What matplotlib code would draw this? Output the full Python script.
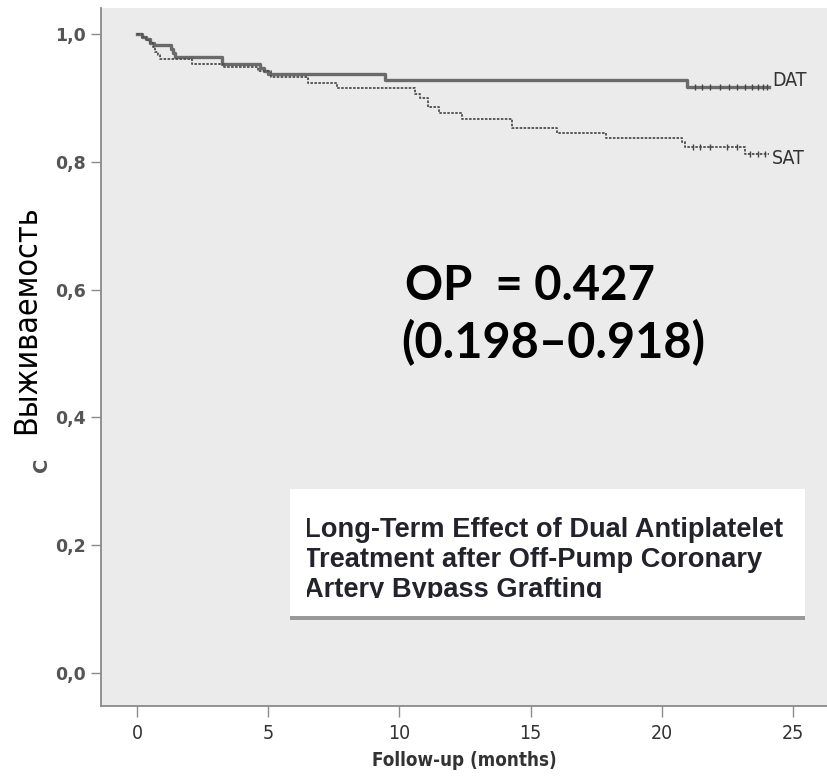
import matplotlib
matplotlib.use("Agg")
import matplotlib.pyplot as plt
from matplotlib.patches import Rectangle
import numpy as np

# ---- data ----
dat_t = [0, 0.2, 0.35, 0.5, 0.65, 1.3, 1.37, 1.45, 3.23, 4.69, 4.85, 5.0, 9.45, 20.95, 24.1]
dat_s = [1.0, 0.995, 0.991, 0.986, 0.982, 0.976, 0.970, 0.964, 0.953, 0.946, 0.941, 0.9375, 0.928, 0.916, 0.916]
sat_t = [0, 0.2, 0.35, 0.5, 0.6, 0.7, 0.8, 0.88, 2.08, 3.3, 4.6, 5.1, 6.52, 7.61, 10.6, 10.8, 11.1,
         11.5, 12.4, 14.28, 16.0, 17.87, 20.75, 20.9, 23.17, 24.1]
sat_s = [1.0, 0.995, 0.99, 0.985, 0.979, 0.972, 0.966, 0.960, 0.953, 0.947, 0.942, 0.932, 0.922, 0.915,
         0.905, 0.899, 0.885, 0.876, 0.866, 0.852, 0.844, 0.837, 0.830, 0.823, 0.8125, 0.8125]
dat_cens = [21.27, 21.53, 21.84, 22.22, 22.54, 22.86, 23.17, 23.43, 23.68, 23.87, 24.0]
sat_cens = [21.2, 21.46, 21.84, 22.48, 22.86, 23.37, 23.68, 23.94]
x_ticks = [0, 5, 10, 15, 20, 25]
y_ticks = [0.0, 0.2, 0.4, 0.6, 0.8, 1.0]
y_tick_labels = ["0,0", "0,2", "0,4", "0,6", "0,8", "1,0"]
group_labels = ["DAT", "SAT"]
hr_text = ["ОР  = 0.427", "(0.198–0.918)"]
title_lines = ["Long-Term Effect of Dual Antiplatelet",
               "Treatment after Off-Pump Coronary",
               "Artery Bypass Grafting"]
xlabel = "Follow-up (months)"
ylabel = "Выживаемость"

W, H = 828, 779
fig = plt.figure(figsize=(W / 100, H / 100), dpi=100)
fig.patch.set_facecolor("white")

def fx(px):
    return px / W

def fy(py):
    return 1 - py / H

ax = fig.add_axes([fx(101), fy(706), 1 - fx(101), fy(8) - fy(706)])
ax.set_facecolor("#ebebeb")
ax.set_xlim(-1.37, 26.33)
ax.set_ylim(-0.051, 1.040)
for s in ["top", "right"]:
    ax.spines[s].set_visible(False)
for s in ["left", "bottom"]:
    ax.spines[s].set_color("#8a8a8a")
    ax.spines[s].set_linewidth(1.3)

ax.step(dat_t, dat_s, where="post", color="#6a6a6a", lw=2.4, zorder=3)
ax.step(sat_t, sat_s, where="post", color="#4e4e4e", lw=1.3, ls=(0, (1.4, 0.8)), zorder=3)

def surv_at(ts, ss, t):
    i = np.searchsorted(ts, t, side="right") - 1
    return ss[i]

ax.plot(dat_cens, [surv_at(dat_t, dat_s, t) for t in dat_cens], ls="none", marker="|",
        ms=5, mew=1.0, color="#444444", zorder=4)
ax.plot(sat_cens, [surv_at(sat_t, sat_s, t) for t in sat_cens], ls="none", marker="|",
        ms=5, mew=1.0, color="#444444", zorder=4)

ax.text(24.2, dat_s[-1] + 0.011, group_labels[0], fontsize=14, color="#333333",
        family="DejaVu Sans", stretch="condensed", ha="left", va="center")
ax.text(24.2, sat_s[-1] - 0.007, group_labels[1], fontsize=14, color="#333333",
        family="DejaVu Sans", stretch="condensed", ha="left", va="center")

ax.set_xticks(x_ticks)
ax.set_yticks(y_ticks)
ax.set_yticklabels(y_tick_labels)
ax.tick_params(axis="y", length=7, width=1, color="#8a8a8a", pad=4, labelsize=12.5,
               labelcolor="#555555")
for lab in ax.get_yticklabels():
    lab.set_fontweight("bold")
ax.tick_params(axis="x", length=8, width=1, color="#8a8a8a", pad=5, labelsize=14,
               labelcolor="#333333")
for lab in ax.get_xticklabels():
    lab.set_family("DejaVu Sans")
    lab.set_stretch("condensed")
ax.set_xlabel(xlabel, family="DejaVu Sans", stretch="condensed", fontweight="bold",
              fontsize=13.5, color="#333333", labelpad=6)

# y label and leftover char
fig.text(fx(27), fy(320), ylabel, rotation=90, ha="center", va="center", fontsize=23,
         family="DejaVu Sans", stretch="condensed", color="black")
fig.text(fx(42), fy(465), "С", rotation=90, ha="center", va="center", fontsize=14,
         fontweight="bold", color="#555555")

# hazard ratio text
fig.text(fx(405), fy(300), hr_text[0], ha="left", va="baseline", fontsize=34,
         fontweight="bold", family=["Lato", "Noto Sans", "DejaVu Sans"], color="black")
fig.text(fx(401), fy(358), hr_text[1], ha="left", va="baseline", fontsize=35,
         fontweight="bold", family=["Lato", "Noto Sans", "DejaVu Sans"], color="black")

# title box
box = Rectangle((fx(290), fy(616)), fx(805) - fx(290), fy(489) - fy(616),
                transform=fig.transFigure, facecolor="white", edgecolor="none", zorder=5)
fig.patches.append(box)
shadow = Rectangle((fx(290), fy(620)), fx(805) - fx(290), fy(616) - fy(620),
                   transform=fig.transFigure, facecolor="#999999", edgecolor="none", zorder=5)
fig.patches.append(shadow)
clip = Rectangle((fx(307), fy(598)), fx(805) - fx(307), fy(489) - fy(598),
                 transform=fig.transFigure, facecolor="none", edgecolor="none")
fig.patches.append(clip)
for i, line in enumerate(title_lines):
    t = fig.text(fx(304), fy(536.7 + 30 * i), line, ha="left", va="baseline", fontsize=19.6,
                 fontweight="bold", family="Liberation Sans", color="#22232b", zorder=6)
    t.set_clip_path(clip)

fig.savefig("out.png", dpi=100, facecolor="white")
